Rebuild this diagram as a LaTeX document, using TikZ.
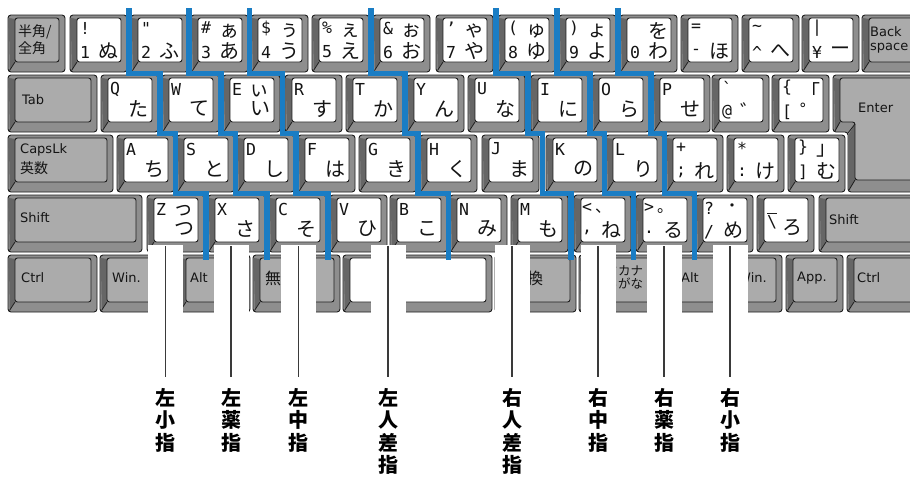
\documentclass[tikz,border=0pt]{standalone}
\usepackage{fontspec}
\setmainfont{DejaVu Sans}
\newfontfamily\jp{Noto Sans CJK JP}
\newfontfamily\kmono{DejaVu Sans Mono}
\definecolor{kbbody}{HTML}{8E8E8E}
\definecolor{kbleft}{HTML}{666666}
\definecolor{kbmod}{HTML}{ABABAB}
\definecolor{kbline}{HTML}{1E1E1E}
\definecolor{kbblue}{HTML}{1A7DC4}
\definecolor{leadc}{HTML}{3A3A3A}
\definecolor{legc}{HTML}{141414}
\tikzset{
  lat/.style={inner sep=0pt, text=legc, font=\kmono\fontsize{16.5}{16.5}\selectfont},
  kana/.style={inner sep=0pt, text=legc, font=\jp\fontsize{20}{20}\selectfont},
  smk/.style={inner sep=0pt, text=legc, font=\jp\fontsize{16}{16}\selectfont},
  modt/.style={inner sep=0pt, anchor=west, text=legc, font=\fontsize{13}{13}\selectfont},
  modj/.style={inner sep=0pt, anchor=west, text=legc, font=\jp\fontsize{14}{14}\selectfont},
  modk/.style={inner sep=0pt, anchor=west, text=legc, font=\jp\fontsize{12.5}{12.5}\selectfont},
  modb/.style={inner sep=0pt, anchor=west, text=legc, font=\jp\fontsize{16}{16}\selectfont},
  finger/.style={draw=kbblue, line width=5.5pt},
  mask/.style={fill=white},
  leader/.style={draw=leadc, line width=1.1pt},
  lab/.style={inner sep=0pt, anchor=north, align=center, font=\jp\bfseries\fontsize{20}{22.5}\selectfont},
}
% generic key: x y w h topfill legends
\newcommand\kb[6]{\begin{scope}[shift={(#1,#2)}]
  \fill[kbbody,rounded corners=3pt] (0,0) rectangle (#3,#4);
  \fill[kbleft] (0.8,3) -- (7,4) -- (7,{#4-11}) -- (1.8,{#4-2}) -- cycle;
  \draw[kbline,line width=0.9pt,rounded corners=3pt] (0,0) rectangle (#3,#4);
  \draw[kbline,line width=0.8pt] (7,{#4-10}) -- (1.5,{#4-1.5});
  \filldraw[draw=kbline,line width=0.9pt,fill=#5,rounded corners=2.5pt] (7,3) rectangle ({#3-6},{#4-10});
  #6
\end{scope}}
% modifier key: x y w legends
\newcommand\mk[4]{\kb{#1}{#2}{#3}{57}{kbmod}{#4}}
% symbol key: x y topleft bottomleft topright bottomright
\newcommand\ck[6]{\kb{#1}{#2}{57}{57}{white}{%
  \node[lat] at (15,13) {#3};
  \node[lat] at (15,37) {#4};
  \node[kana] at (38,16) {#5};
  \node[kana] at (38,36) {#6};}}
% punctuation key (small mark top right)
\newcommand\pk[8]{\kb{#1}{#2}{57}{57}{white}{%
  \node[lat] at (13,13) {#3};
  \node[lat] at (13,37) {#4};
  \node[smk] at (#7,#8) {#5};
  \node[kana] at (37,35) {#6};}}
% letter key: x y letter kana smallkana
\newcommand\lk[5]{\kb{#1}{#2}{57}{57}{white}{%
  \node[lat] at (14,14) {#3};
  \node[kana] at (36,16) {#5};
  \node[kana] at (37,34) {#4};}}
\newcommand\fline[4]{\draw[finger] (#1,8) -- (#1,73.5) -- (#2,73.5) -- (#2,133.5) -- (#3,133.5) -- (#3,193.5) -- (#4,193.5) -- (#4,260);}

\begin{document}
\begin{tikzpicture}[x=1pt,y=-1pt]
\useasboundingbox (0,0) rectangle (910,477);
\clip (0,0) rectangle (910,477);
\fill[white] (0,0) rectangle (910,477);

% ---------- row 1 ----------
\mk{8}{15}{57}{\node[modj] at (10,17) {半角/}; \node[modj] at (10,33) {全角};}
\ck{70}{15}{!}{1}{}{ぬ}
\ck{131}{15}{\symbol{34}}{2}{}{ふ}
\ck{191}{15}{\#}{3}{ぁ}{あ}
\ck{251}{15}{\$}{4}{ぅ}{う}
\ck{312}{15}{\%}{5}{ぇ}{え}
\ck{373}{15}{\&}{6}{ぉ}{お}
\ck{436}{15}{’}{7}{ゃ}{や}
\ck{498}{15}{(}{8}{ゅ}{ゆ}
\ck{559}{15}{)}{9}{ょ}{よ}
\ck{620}{15}{}{0}{を}{わ}
\ck{681}{15}{=}{-}{}{ほ}
\ck{742}{15}{\textasciitilde}{\textasciicircum}{}{へ}
\ck{802}{15}{|}{¥}{}{ー}
\mk{862}{15}{63}{\node[modt] at (8,17) {Back}; \node[modt] at (8,33) {space};}

% ---------- row 2 ----------
\mk{8}{75}{89}{\node[modt] at (14,25) {Tab};}
\lk{101}{75}{Q}{た}{}
\lk{162}{75}{W}{て}{}
\lk{223}{75}{E}{い}{ぃ}
\lk{285}{75}{R}{す}{}
\lk{346}{75}{T}{か}{}
\lk{407}{75}{Y}{ん}{}
\lk{468}{75}{U}{な}{}
\lk{531}{75}{I}{に}{}
\lk{592}{75}{O}{ら}{}
\lk{653}{75}{P}{せ}{}
\ck{712}{75}{\symbol{96}}{@}{}{゛}
\ck{772}{75}{\{}{[}{「}{゜}
% Enter
\fill[kbbody,rounded corners=3pt] (833,75) -- (925,75) -- (925,192) -- (848,192) -- (848,132) -- (833,132) -- cycle;
\fill[kbleft] (834,78) -- (840,79) -- (840,122) -- (835,131) -- cycle;
\fill[kbleft] (849,134) -- (855,124) -- (855,180) -- (849,190) -- cycle;
\draw[kbline,line width=0.9pt,rounded corners=3pt] (833,75) -- (925,75) -- (925,192) -- (848,192) -- (848,132) -- (833,132) -- cycle;
\filldraw[draw=kbline,line width=0.9pt,fill=kbmod,rounded corners=2.5pt] (840,78) -- (925,78) -- (925,180) -- (855,180) -- (855,122) -- (840,122) -- cycle;
\draw[kbline,line width=0.8pt] (840,122) -- (835,131) (855,180) -- (849,190) (848,133) -- (855,124);
\node[modt] (enter) at (858,108) {Enter};

% ---------- row 3 ----------
\mk{8}{135}{105}{\node[modt] at (12,15) {CapsLk}; \node[modj] at (12,33) {英数};}
\lk{117}{135}{A}{ち}{}
\lk{177}{135}{S}{と}{}
\lk{237}{135}{D}{し}{}
\lk{298}{135}{F}{は}{}
\lk{359}{135}{G}{き}{}
\lk{420}{135}{H}{く}{}
\lk{482}{135}{J}{ま}{}
\lk{546}{135}{K}{の}{}
\lk{606}{135}{L}{り}{}
\ck{666}{135}{+}{;}{}{れ}
\ck{727}{135}{*}{:}{}{け}
\ck{788}{135}{\}}{]}{」}{む}

% ---------- row 4 ----------
\mk{8}{195}{134}{\node[modt] at (12,23) {Shift};}
\lk{147}{195}{Z}{つ}{っ}
\lk{208}{195}{X}{さ}{}
\lk{269}{195}{C}{そ}{}
\lk{330}{195}{V}{ひ}{}
\lk{390}{195}{B}{こ}{}
\lk{450}{195}{N}{み}{}
\lk{511}{195}{M}{も}{}
\pk{574}{195}{<}{,}{、}{ね}{29}{16}
\pk{636}{195}{>}{.}{。}{る}{29}{16}
\pk{696}{195}{?}{/}{・}{め}{36}{13}
\kb{757}{195}{57}{57}{white}{\node[lat] at (15,27) {\textbackslash}; \draw[kbline,line width=0.9pt] (10,18) -- (20,18); \node[kana] at (35,33) {ろ};}
\mk{819}{195}{106}{\node[modt] at (10,25) {Shift};}

% ---------- row 5 ----------
\mk{8}{255}{89}{\node[modt] at (13,23) {Ctrl};}
\mk{100}{255}{76}{\node[modt] at (12,23) {Win.};}
\mk{179}{255}{71}{\node[modt] at (11,23) {Alt};}
\mk{253}{255}{87}{\node[modb] at (12,23) {無変換};}
\kb{343}{255}{149}{57}{white}{}
\mk{495}{255}{81}{\node[modb] at (16,23) {変換};}
\mk{579}{255}{86}{\node[modk] at (14,16) {カタカナ}; \node[modk] at (14,29) {ひらがな};}
\mk{668}{255}{55}{\node[modt] at (13,23) {Alt};}
\mk{726}{255}{56}{\node[modt] at (12,23) {Win.};}
\mk{786}{255}{57}{\node[modt] at (11,23) {App.};}
\mk{847}{255}{78}{\node[modt] at (10,23) {Ctrl};}

% ---------- finger zone boundaries ----------
\fline{129}{160}{175.5}{206}
\fline{189}{221}{235.5}{267}
\fline{249.5}{282.5}{296}{328}
\fline{371}{405}{418}{448.5}
\fline{496}{528}{542.5}{571}
\fline{557}{590}{604.5}{633.5}
\fline{618}{651}{664.5}{694.5}

% ---------- leaders and labels ----------
\foreach \x in {165.5,231,298.5,388,512,598,664,730}
  \fill[mask] ({\x-17.5},245) rectangle ({\x+17.5},316);

\node[lab] (f1) at (165.5,388) {左\\小\\指};
\node[lab] (f2) at (231,388) {左\\薬\\指};
\node[lab] (f3) at (298.5,388) {左\\中\\指};
\node[lab] (f4) at (388,388) {左\\人\\差\\指};
\node[lab] (f5) at (512,388) {右\\人\\差\\指};
\node[lab] (f6) at (598,388) {右\\中\\指};
\node[lab] (f7) at (664,388) {右\\薬\\指};
\node[lab] (f8) at (730,388) {右\\小\\指};

\coordinate (t1) at (165.5,246);
\coordinate (t2) at (231,246);
\coordinate (t3) at (298.5,246);
\coordinate (t4) at (388,246);
\coordinate (t5) at (512,246);
\coordinate (t6) at (598,246);
\coordinate (t7) at (664,246);
\coordinate (t8) at (730,246);
\foreach \i in {1,...,8}
  \draw[leader] (t\i) -- ([yshift=11pt]f\i.north);
\end{tikzpicture}
\end{document}
